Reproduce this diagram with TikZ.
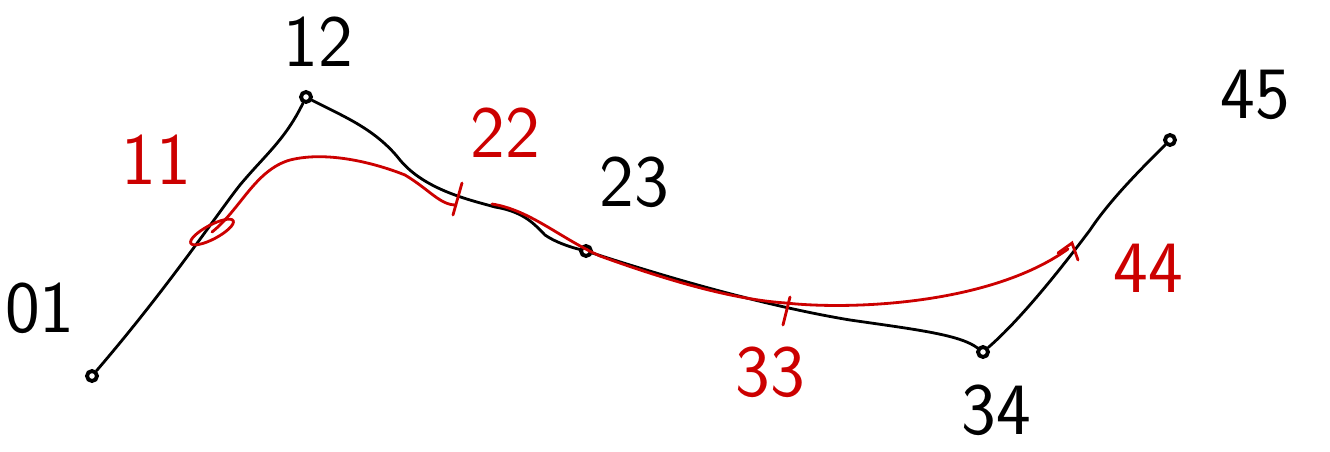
\documentclass[tikz,border=0pt]{standalone}
\usepackage{fontspec}
\setmainfont{DejaVu Sans}
\begin{document}
\begin{tikzpicture}[x=0.02cm,y=-0.02cm,
  pt/.style={circle,draw=black,line width=2.2pt,inner sep=0pt,minimum size=0.2cm},
  blk/.style={black,line width=1.6pt,line cap=round},
  redl/.style={red!80!black,line width=1.6pt,line cap=round},
  blab/.style={font=\fontsize{42}{42}\selectfont\sffamily,text=black},
  rlab/.style={font=\fontsize{42}{42}\selectfont\sffamily,text=red!80!black}]
\useasboundingbox (0,0) rectangle (1330,451);
% points
\node[pt] (p01) at (92,376) {};
\node[pt] (p12) at (306,97) {};
\node[pt] (p23) at (586,251) {};
\node[pt] (p34) at (983,352) {};
\node[pt] (p45) at (1170,140) {};
% black path
\draw[blk] (p01) .. controls (170,285) and (220,210) .. (240,185)
  .. controls (265,155) and (285,140) .. (p12);
\draw[blk] (p12) .. controls (340,115) and (375,128) .. (400,160)
  .. controls (425,190) and (470,200) .. (495,207)
  .. controls (525,212) and (535,225) .. (545,235)
  .. controls (555,242) and (570,247) .. (p23);
\draw[blk] (p23) .. controls (660,275) and (760,305) .. (850,320)
  .. controls (920,330) and (960,335) .. (p34);
\draw[blk] (p34) .. controls (1020,320) and (1060,270) .. (1090,230)
  .. controls (1110,200) and (1140,170) .. (p45);
% red path
\coordinate (r11) at (212,232);
\coordinate (r22) at (456,205);
\coordinate (r33) at (786,303);
\coordinate (r44) at (1068,249);
\draw[redl] (r11) .. controls (240,210) and (255,170) .. (290,160)
  .. controls (330,150) and (380,165) .. (405,175)
  .. controls (430,190) and (440,205) .. (r22);
\draw[redl] (492,204) .. controls (530,210) and (560,238) .. (600,256)
  .. controls (680,285) and (740,300) .. (r33)
  .. controls (850,310) and (990,305) .. (r44);
% red marks
\draw[redl] (r11) ellipse [x radius=24, y radius=7, rotate=28];
\draw[redl] (462,183) -- (453,215);
\draw[redl] (790,297) -- (783,325);
\draw[redl] (1058,253) -- (1072,243) -- (1078,260);
% labels
\node[blab] (l01) at (40,308) {01};
\node[blab] (l12) at (318,42) {12};
\node[blab] (l23) at (634,182) {23};
\node[blab] (l34) at (996,410) {34};
\node[blab] (l45) at (1255,95) {45};
\node[rlab] (l11) at (156,160) {11};
\node[rlab] (l22) at (505,133) {22};
\node[rlab] (l33) at (770,372) {33};
\node[rlab] (l44) at (1148,268) {44};
\end{tikzpicture}
\end{document}
